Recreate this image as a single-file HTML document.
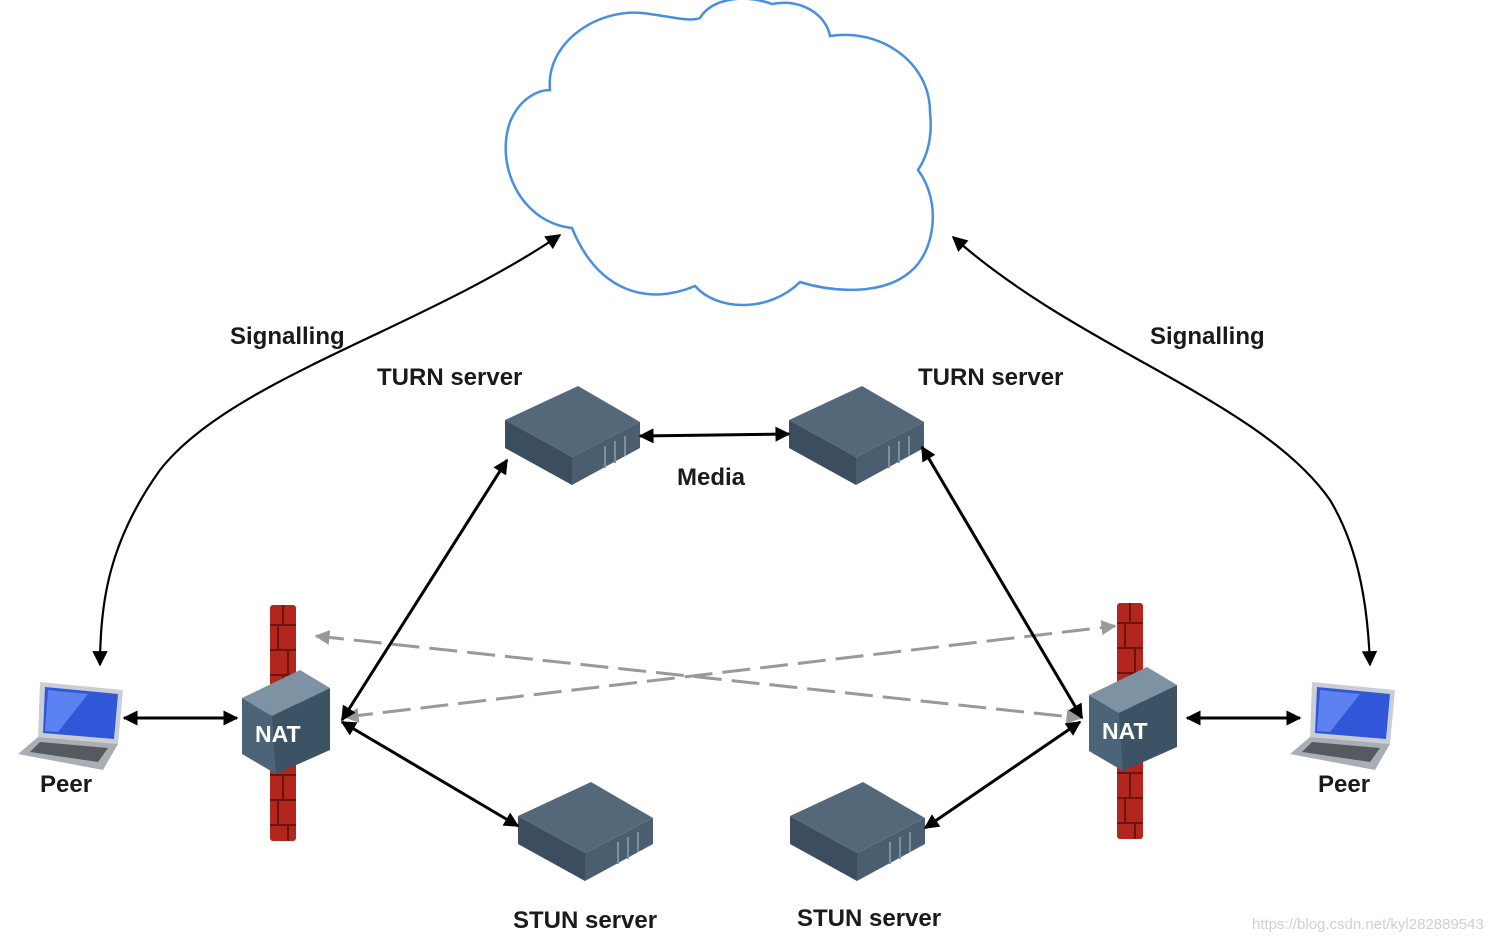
<!DOCTYPE html>
<html><head><meta charset="utf-8"><style>
html,body{margin:0;padding:0;background:#fff;}
svg{display:block;}
text{font-family:"Liberation Sans",sans-serif;font-weight:bold;fill:#1a1a1a;}
</style></head><body>
<svg width="1506" height="942" viewBox="0 0 1506 942" xmlns="http://www.w3.org/2000/svg">
<defs>
<marker id="a" viewBox="0 0 10 10" refX="9" refY="5" markerWidth="6" markerHeight="5" orient="auto-start-reverse"><path d="M0,0 L10,5 L0,10 z" fill="#000"/></marker>
<marker id="b" viewBox="0 0 10 10" refX="9" refY="5" markerWidth="8" markerHeight="7" orient="auto-start-reverse"><path d="M0,0 L10,5 L0,10 z" fill="#000"/></marker>
<marker id="g" viewBox="0 0 10 10" refX="9" refY="5" markerWidth="6" markerHeight="5" orient="auto-start-reverse"><path d="M0,0 L10,5 L0,10 z" fill="#999"/></marker>
<g id="fw">
<rect x="0" y="0" width="26" height="236" rx="3" fill="#b3261e"/>
<path d="M0,20H26M0,45H26M0,70H26M0,95H26M0,120H26M0,145H26M0,170H26M0,195H26M0,220H26M13,0V20M8,20V45M18,45V70M13,70V95M8,95V120M13,170V195M8,195V220M18,220V236" stroke="#6e1410" stroke-width="2" fill="none"/>
</g>
<g id="nat">
<polygon points="0,28 58,0 88,18 30,46" fill="#7d93a3"/>
<polygon points="0,28 30,46 34,104 0,84" fill="#4b6477"/>
<polygon points="30,46 88,18 88,80 34,104" fill="#3c5366"/>
<text x="13" y="72" font-size="23" style="fill:#fff">NAT</text>
</g>
<g id="srv">
<polygon points="0,34 73,0 135,36 67,71" fill="#55687a"/>
<polygon points="0,34 67,71 67,99 0,62" fill="#3b4d5e"/>
<polygon points="67,71 135,36 135,62 67,99" fill="#4a5e70"/>
<path d="M100,60v22M110,55v22M120,50v20" stroke="#7e8fa0" stroke-width="2"/>
</g>
<g id="lap">
<polygon points="22,0 105,8 100,62 20,55" fill="#c9ced4"/>
<polygon points="27,5 100,12 96,57 25,51" fill="#2f57d8"/>
<polygon points="30,8 70,12 40,50 27,49" fill="#5b82f0"/>
<polygon points="20,55 100,62 85,88 0,72" fill="#a9aeb4"/>
<polygon points="22,60 90,66 80,80 12,70" fill="#555a60"/>
</g>
</defs>

<path d="M572,228 C520,222 495,165 510,122 C520,98 538,90 550,90 C545,42 600,5 650,14 C672,17 690,22 700,18 C712,-2 745,-6 772,4 C800,-2 826,14 830,36 C880,28 930,62 930,112 C933,140 926,158 918,170 C942,202 935,252 910,272 C882,296 832,292 800,282 C770,312 718,312 695,286 C648,306 598,292 572,228 Z" fill="none" stroke="#4a8ee0" stroke-width="2.5"/>

<path d="M560,235 C420,330 230,380 160,470 C110,540 100,600 100,665" fill="none" stroke="#000" stroke-width="2.2" marker-start="url(#b)" marker-end="url(#b)"/>
<path d="M953,237 C1080,350 1260,400 1330,500 C1360,550 1368,610 1370,665" fill="none" stroke="#000" stroke-width="2.2" marker-start="url(#b)" marker-end="url(#b)"/>

<use href="#fw" x="270" y="605"/>
<use href="#fw" x="1117" y="603"/>

<line x1="316" y1="636" x2="1080" y2="718" stroke="#999" stroke-width="3" stroke-dasharray="28,10" marker-start="url(#g)" marker-end="url(#g)"/>
<line x1="345" y1="717" x2="1115" y2="626" stroke="#999" stroke-width="3" stroke-dasharray="28,10" marker-start="url(#g)" marker-end="url(#g)"/>

<use href="#srv" x="505" y="386"/>
<use href="#srv" x="789" y="386"/>
<use href="#srv" x="518" y="782"/>
<use href="#srv" x="790" y="782"/>

<use href="#nat" x="242" y="670"/>
<use href="#nat" x="1089" y="667"/>

<use href="#lap" x="18" y="682"/>
<use href="#lap" x="1290" y="682"/>

<g stroke="#000" stroke-width="3" fill="none">
<line x1="640" y1="436" x2="789" y2="434" marker-start="url(#a)" marker-end="url(#a)"/>
<line x1="507" y1="460" x2="342" y2="720" marker-start="url(#a)" marker-end="url(#a)"/>
<line x1="922" y1="447" x2="1082" y2="718" marker-start="url(#a)" marker-end="url(#a)"/>
<line x1="342" y1="722" x2="518" y2="826" marker-start="url(#a)" marker-end="url(#a)"/>
<line x1="1080" y1="722" x2="925" y2="828" marker-start="url(#a)" marker-end="url(#a)"/>
<line x1="124" y1="718" x2="237" y2="718" marker-start="url(#a)" marker-end="url(#a)"/>
<line x1="1187" y1="718" x2="1300" y2="718" marker-start="url(#a)" marker-end="url(#a)"/>
</g>

<text x="230" y="344" font-size="24">Signalling</text>
<text x="1150" y="344" font-size="24">Signalling</text>
<text x="377" y="385" font-size="24">TURN server</text>
<text x="918" y="385" font-size="24">TURN server</text>
<text x="677" y="485" font-size="24">Media</text>
<text x="40" y="792" font-size="24">Peer</text>
<text x="1318" y="792" font-size="24">Peer</text>
<text x="513" y="928" font-size="24">STUN server</text>
<text x="797" y="926" font-size="24">STUN server</text>
<text x="1252" y="929" font-size="15" style="fill:#d0d0d0;font-weight:normal">https://blog.csdn.net/kyl282889543</text>
</svg>
</body></html>
